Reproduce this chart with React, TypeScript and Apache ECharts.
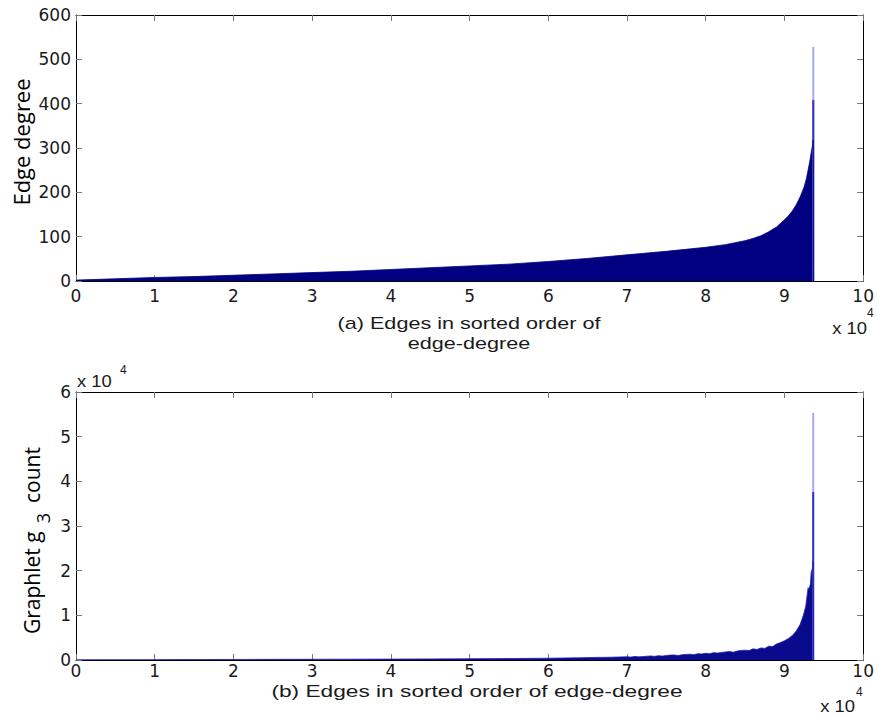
import React, { useEffect, useRef } from "react";
import * as echarts from "echarts";

// Panel (a): edge degree vs. rank (edges sorted by edge-degree)
const TOP_X = [0, 5000, 10000, 15000, 20000, 25000, 30000, 35000, 40000, 45000, 50000, 55000, 60000, 65000, 70000, 75000, 80000, 82500, 85000, 86000, 87000, 88000, 89000, 90000, 90500, 91000, 91500, 92000, 92500, 92800, 93000, 93200, 93400, 93600, 93650, 93680];
const TOP_Y = [2, 5, 8, 10, 13, 16, 19, 22, 26, 30, 34, 38, 44, 51, 59, 67, 76, 82, 91, 96, 102, 111, 122, 138, 147, 158, 172, 190, 212, 232, 250, 268, 290, 310, 318, 0];
const TOP_SPIKE_X = 93660;
const TOP_SPIKE_MID = 408;
const TOP_SPIKE_MAX = 528;

// Panel (b): graphlet g3 count vs. rank
const BOT_X = [0, 5000, 10000, 15000, 20000, 25000, 30000, 35000, 40000, 45000, 50000, 55000, 60000, 62000, 64000, 66000, 68000, 70000, 70500, 71000, 71500, 72000, 72500, 73000, 73500, 74000, 74500, 75000, 75500, 76000, 76500, 77000, 77500, 78000, 78500, 79000, 79500, 80000, 80500, 81000, 81500, 82000, 82500, 83000, 83500, 84000, 84500, 85000, 85500, 86000, 86500, 87000, 87500, 88000, 88500, 89000, 89500, 90000, 90500, 91000, 91500, 92000, 92400, 92700, 93000, 93100, 93300, 93400, 93550, 93620, 93680];
const BOT_Y = [40, 60, 80, 100, 120, 140, 160, 180, 200, 240, 280, 320, 400, 450, 500, 580, 620, 720, 650, 800, 700, 760, 850, 900, 820, 960, 880, 1000, 1100, 1120, 1000, 1180, 1250, 1300, 1200, 1400, 1350, 1500, 1420, 1650, 1550, 1700, 1800, 1900, 1750, 2000, 2150, 2200, 2100, 2500, 2350, 2700, 2600, 3100, 3000, 3600, 3900, 4300, 4800, 5500, 6500, 8000, 10000, 12000, 16200, 15800, 17000, 19700, 20500, 22000, 0];
const BOT_SPIKE_X = 93650;
const BOT_SPIKE_MID = 37600;
const BOT_SPIKE_MAX = 55300;

const X_TICKS_LABEL = (v: number) => String(Math.round(v / 10000));

const TICK_FONT = "'DejaVu Sans', 'Liberation Sans', sans-serif";
const LABEL_FONT = "'Liberation Sans', Arial, Helvetica, sans-serif";
const TITLE_FONT = "'Open Sans', 'Liberation Sans', sans-serif";
const INK = "#1a1a1a";

export default function App() {
  const ref = useRef<HTMLDivElement>(null);
  useEffect(() => {
    if (!ref.current) return;
    const chart = echarts.init(ref.current, undefined, { renderer: "svg" });

    const axisLabel = { fontSize: 17, color: INK, fontFamily: TICK_FONT };
    const mkX = (gridIndex: number, pos: "bottom" | "top", labels: boolean, margin: number) => ({
      type: "value",
      gridIndex,
      position: pos,
      min: 0,
      max: 100000,
      interval: 10000,
      axisLine: { show: true, onZero: false, lineStyle: { color: "#000", width: 1 } },
      axisTick: { show: true, inside: true, length: 6, lineStyle: { color: "#777" } },
      axisLabel: labels ? { ...axisLabel, margin, formatter: X_TICKS_LABEL } : { show: false },
      splitLine: { show: false },
    });
    const mkY = (gridIndex: number, pos: "left" | "right", labels: boolean, max: number, interval: number, fmt?: (v: number) => string) => ({
      type: "value",
      gridIndex,
      position: pos,
      min: 0,
      max,
      interval,
      axisLine: { show: true, onZero: false, lineStyle: { color: "#000", width: 1 } },
      axisTick: { show: true, inside: true, length: 6, lineStyle: { color: "#777" } },
      axisLabel: labels ? { ...axisLabel, margin: 5, formatter: fmt } : { show: false },
      splitLine: { show: false },
    });

    const zip = (xs: number[], ys: number[]) => xs.map((x, i) => [x, ys[i]]);
    const txt = (x: number, y: number, text: string, fontSize: number, textAlign: string, extra: any = {}) => {
      const { font, fill, ...rest } = extra;
      return {
        type: "text", x, y, ...rest,
        style: { text, fontSize, fontFamily: font || LABEL_FONT, fill: fill || INK, textAlign, textVerticalAlign: "middle" },
      };
    };

    chart.setOption({
      animation: false,
      backgroundColor: "#fff",
      grid: [
        { left: 76, top: 15, width: 789, height: 266 },
        { left: 76, top: 392, width: 789, height: 268 },
      ],
      xAxis: [mkX(0, "bottom", true, 6), mkX(0, "top", false, 8), mkX(1, "bottom", true, 2), mkX(1, "top", false, 8)],
      yAxis: [
        mkY(0, "left", true, 600, 100),
        mkY(0, "right", false, 600, 100),
        mkY(1, "left", true, 60000, 10000, (v: number) => String(Math.round(v / 10000))),
        mkY(1, "right", false, 60000, 10000),
      ],
      series: [
        {
          type: "line", xAxisIndex: 0, yAxisIndex: 0, symbol: "none",
          data: [[TOP_SPIKE_X, 0], [TOP_SPIKE_X, TOP_SPIKE_MAX]],
          lineStyle: { color: "#a9a9e8", width: 2 },
        },
        {
          type: "line", xAxisIndex: 0, yAxisIndex: 0, symbol: "none",
          data: [[TOP_SPIKE_X, 0], [TOP_SPIKE_X, TOP_SPIKE_MID]],
          lineStyle: { color: "#3434c0", width: 2 },
        },
        {
          type: "line", xAxisIndex: 0, yAxisIndex: 0, symbol: "none",
          data: zip(TOP_X, TOP_Y),
          lineStyle: { color: "#000080", width: 0.8 },
          areaStyle: { color: "#000080", opacity: 1 },
        },
        {
          type: "line", xAxisIndex: 2, yAxisIndex: 2, symbol: "none",
          data: [[BOT_SPIKE_X, 0], [BOT_SPIKE_X, BOT_SPIKE_MAX]],
          lineStyle: { color: "#a9a9e8", width: 2 },
        },
        {
          type: "line", xAxisIndex: 2, yAxisIndex: 2, symbol: "none",
          data: [[BOT_SPIKE_X, 0], [BOT_SPIKE_X, BOT_SPIKE_MID]],
          lineStyle: { color: "#3434c0", width: 2 },
        },
        {
          type: "line", xAxisIndex: 2, yAxisIndex: 2, symbol: "none",
          data: zip(BOT_X, BOT_Y),
          lineStyle: { color: "#2020a8", width: 0.8 },
          areaStyle: { color: "#0a0a8c", opacity: 1 },
        },
      ],
      graphic: [
        txt(21, 142, "Edge degree", 22, "center", { rotation: Math.PI / 2, font: TITLE_FONT, fill: "#000" }),
        txt(469, 324, "(a) Edges in sorted order of", 16, "center", { scaleX: 1.35 }),
        txt(469, 344, "edge-degree", 16, "center", { scaleX: 1.35 }),
        txt(867, 328, "x 10", 16, "right", { scaleX: 1.15 }),
        txt(867, 313, "4", 12, "left"),
        txt(77, 381, "x 10", 16, "left", { scaleX: 1.15 }),
        txt(120, 370, "4", 12, "left"),
        txt(477, 691, "(b) Edges in sorted order of edge-degree", 16, "center", { scaleX: 1.42 }),
        txt(855, 706, "x 10", 16, "right", { scaleX: 1.15 }),
        txt(856, 692, "4", 12, "left"),
        txt(32, 634, "Graphlet g", 21, "left", { rotation: Math.PI / 2, font: TITLE_FONT, fill: "#000" }),
        txt(43, 518, "3", 18, "center", { rotation: Math.PI / 2, font: TITLE_FONT, fill: "#000" }),
        txt(32, 503, "count", 21, "left", { rotation: Math.PI / 2, font: TITLE_FONT, fill: "#000" }),
      ],
    });
    return () => chart.dispose();
  }, []);
  return <div ref={ref} style={{ position: "fixed", left: 0, top: 0, width: 877, height: 717 }} />;
}
